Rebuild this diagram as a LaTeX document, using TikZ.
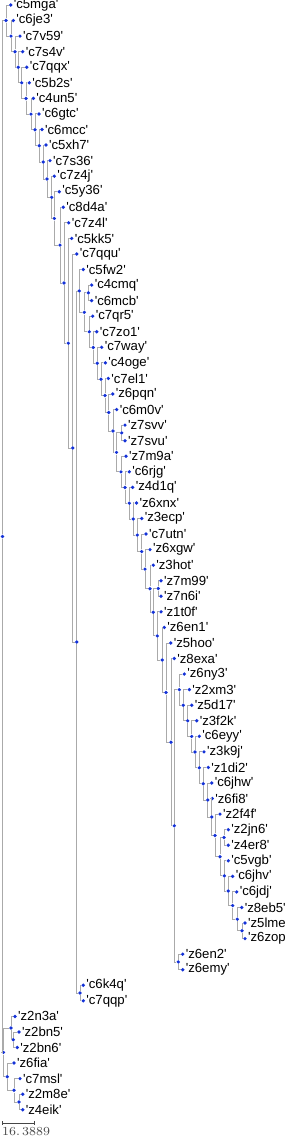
\documentclass[tikz,border=0pt]{standalone}
\usepackage{fontspec}
\setsansfont{Liberation Sans}
\usetikzlibrary{arrows.meta, positioning}
\usepackage{xcolor}
\definecolor{dotblue}{RGB}{20,50,215}
\definecolor{linegray}{RGB}{170,170,170}
\definecolor{scalegray}{RGB}{70,70,70}

\begin{document}
\begin{tikzpicture}[
      x=0.02cm, y=-0.02cm,
      dot/.style={circle, fill=dotblue, inner sep=0pt, minimum size=2.1pt},
      lbl/.style={font=\sffamily\fontsize{7.5}{9}\selectfont, inner sep=0.3pt, text=black},
      leaf/.style={dot, label={[lbl, label distance=0pt]right:\textquotesingle#1\textquotesingle}},
      edge/.style={draw=linegray, line width=0.5pt},
      sbar/.style={{Bar[width=2.4pt]}-{Bar[width=2.4pt]}, draw=scalegray, line width=0.5pt}
    ]
    \useasboundingbox (0,0) rectangle (284,1138);
    % leaves
    \node[leaf=c5mga] (c5mga) at (10.7,5.00) {};
    \node[leaf=c6je3] (c6je3) at (13.3,20.56) {};
    \node[leaf=c7v59] (c7v59) at (20,36.12) {};
    \node[leaf=c7s4v] (c7s4v) at (22.7,51.68) {};
    \node[leaf=c7qqx] (c7qqx) at (26.7,67.24) {};
    \node[leaf=c5b2s] (c5b2s) at (29.3,82.80) {};
    \node[leaf=c4un5] (c4un5) at (33.3,98.36) {};
    \node[leaf=c6gtc] (c6gtc) at (39,113.92) {};
    \node[leaf=c6mcc] (c6mcc) at (42,129.48) {};
    \node[leaf=c5xh7] (c5xh7) at (46,145.04) {};
    \node[leaf=c7s36] (c7s36) at (50,160.60) {};
    \node[leaf=c7z4j] (c7z4j) at (54.3,176.16) {};
    \node[leaf=c5y36] (c5y36) at (59.3,191.72) {};
    \node[leaf=c8d4a] (c8d4a) at (63.3,207.28) {};
    \node[leaf=c7z4l] (c7z4l) at (68.7,222.84) {};
    \node[leaf=c5kk5] (c5kk5) at (71.7,238.40) {};
    \node[leaf=c7qqu] (c7qqu) at (76.7,253.96) {};
    \node[leaf=c5fw2] (c5fw2) at (83.3,269.52) {};
    \node[leaf=c4cmq] (c4cmq) at (91.7,285.08) {};
    \node[leaf=c6mcb] (c6mcb) at (91.7,300.64) {};
    \node[leaf=c7qr5] (c7qr5) at (92.7,316.20) {};
    \node[leaf=c7zo1] (c7zo1) at (96.7,331.76) {};
    \node[leaf=c7way] (c7way) at (101.7,347.32) {};
    \node[leaf=c4oge] (c4oge) at (105.3,362.88) {};
    \node[leaf=c7el1] (c7el1) at (108.3,378.44) {};
    \node[leaf=z6pqn] (z6pqn) at (112.7,394.00) {};
    \node[leaf=c6m0v] (c6m0v) at (116.7,409.56) {};
    \node[leaf=z7svv] (z7svv) at (125,425.12) {};
    \node[leaf=z7svu] (z7svu) at (125,440.68) {};
    \node[leaf=z7m9a] (z7m9a) at (126,456.24) {};
    \node[leaf=c6rjg] (c6rjg) at (129.3,471.80) {};
    \node[leaf=z4d1q] (z4d1q) at (132.7,487.36) {};
    \node[leaf=z6xnx] (z6xnx) at (136.5,502.92) {};
    \node[leaf=z3ecp] (z3ecp) at (141.7,518.48) {};
    \node[leaf=c7utn] (c7utn) at (146,534.04) {};
    \node[leaf=z6xgw] (z6xgw) at (150,549.60) {};
    \node[leaf=z3hot] (z3hot) at (153.3,565.16) {};
    \node[leaf=z7m99] (z7m99) at (161,580.72) {};
    \node[leaf=z7n6i] (z7n6i) at (161,596.28) {};
    \node[leaf=z1t0f] (z1t0f) at (161,611.84) {};
    \node[leaf=z6en1] (z6en1) at (164.3,627.40) {};
    \node[leaf=z5hoo] (z5hoo) at (170.7,642.96) {};
    \node[leaf=z8exa] (z8exa) at (174.3,658.52) {};
    \node[leaf=z6ny3] (z6ny3) at (184.3,674.08) {};
    \node[leaf=z2xm3] (z2xm3) at (189.3,689.64) {};
    \node[leaf=z5d17] (z5d17) at (191.7,705.20) {};
    \node[leaf=z3f2k] (z3f2k) at (196.7,720.76) {};
    \node[leaf=c6eyy] (c6eyy) at (199.3,736.32) {};
    \node[leaf=z3k9j] (z3k9j) at (204,751.88) {};
    \node[leaf=z1di2] (z1di2) at (208.3,767.44) {};
    \node[leaf=c6jhw] (c6jhw) at (211.7,783.00) {};
    \node[leaf=z6fi8] (z6fi8) at (212.3,798.56) {};
    \node[leaf=z2f4f] (z2f4f) at (220,814.12) {};
    \node[leaf=z2jn6] (z2jn6) at (228.3,829.68) {};
    \node[leaf=z4er8] (z4er8) at (228.3,845.24) {};
    \node[leaf=c5vgb] (c5vgb) at (228.3,860.80) {};
    \node[leaf=c6jhv] (c6jhv) at (232.7,876.36) {};
    \node[leaf=c6jdj] (c6jdj) at (236.7,891.92) {};
    \node[leaf=z8eb5] (z8eb5) at (241.7,907.48) {};
    \node[leaf=z5lme] (z5lme) at (245,923.04) {};
    \node[leaf=z6zop] (z6zop) at (245,938.60) {};
    \node[leaf=z6en2] (z6en2) at (182.7,954.16) {};
    \node[leaf=z6emy] (z6emy) at (182.7,969.72) {};
    \node[leaf=c6k4q] (c6k4q) at (83.3,985.28) {};
    \node[leaf=c7qqp] (c7qqp) at (83.3,1000.84) {};
    \node[leaf=z2n3a] (z2n3a) at (15,1016.40) {};
    \node[leaf=z2bn5] (z2bn5) at (19,1031.96) {};
    \node[leaf=z2bn6] (z2bn6) at (17.3,1047.52) {};
    \node[leaf=z6fia] (z6fia) at (14,1063.08) {};
    \node[leaf=c7msl] (c7msl) at (20,1078.64) {};
    \node[leaf=z2m8e] (z2m8e) at (22.7,1094.20) {};
    \node[leaf=z4eik] (z4eik) at (22.7,1109.76) {};
    % inner nodes
    \node[dot] (root) at (2.5,536.48) {};
    \node[dot] (n1) at (6,20.57) {};
    \node[dot] (n2) at (11,36.13) {};
    \node[dot] (n3) at (15,51.70) {};
    \node[dot] (n4) at (18.3,67.27) {};
    \node[dot] (n5) at (21.7,82.85) {};
    \node[dot] (n6) at (26,98.45) {};
    \node[dot] (n7) at (31,114.10) {};
    \node[dot] (n8) at (35,129.83) {};
    \node[dot] (n9) at (39.3,145.74) {};
    \node[dot] (n10) at (43.3,162.00) {};
    \node[dot] (n11) at (47,178.95) {};
    \node[dot] (n12) at (51.7,197.30) {};
    \node[dot] (n13) at (54.3,218.43) {};
    \node[dot] (n14) at (60,245.15) {};
    \node[dot] (n15) at (64,283.02) {};
    \node[dot] (n16) at (68.3,343.19) {};
    \node[dot] (n17) at (72.7,447.98) {};
    \node[dot] (n18) at (76.7,642.00) {};
    \node[dot] (n19) at (79.3,290.94) {};
    \node[dot] (n20) at (84.3,312.35) {};
    \node[dot] (c1) at (88.3,292.86) {};
    \node[dot] (n21) at (89.3,331.85) {};
    \node[dot] (n22) at (93.3,347.50) {};
    \node[dot] (n23) at (97.3,363.25) {};
    \node[dot] (n24) at (101,379.17) {};
    \node[dot] (n25) at (105,395.46) {};
    \node[dot] (n26) at (108.7,412.49) {};
    \node[dot] (n27) at (113,430.97) {};
    \node[dot] (n28) at (116.5,452.38) {};
    \node[dot] (c2) at (121.7,432.90) {};
    \node[dot] (n29) at (121,471.86) {};
    \node[dot] (n30) at (125,487.49) {};
    \node[dot] (n31) at (129.3,503.17) {};
    \node[dot] (n32) at (133.3,518.98) {};
    \node[dot] (n33) at (137.3,535.04) {};
    \node[dot] (n34) at (141.7,551.59) {};
    \node[dot] (n35) at (145,569.14) {};
    \node[dot] (n36) at (150,588.69) {};
    \node[dot] (n37) at (153.3,612.21) {};
    \node[dot] (c3) at (158.3,588.50) {};
    \node[dot] (n38) at (157.3,635.91) {};
    \node[dot] (n39) at (162.3,659.98) {};
    \node[dot] (n40) at (166,692.56) {};
    \node[dot] (n41) at (171,742.16) {};
    \node[dot] (n42) at (174.3,825.80) {};
    \node[dot] (c4) at (178.3,961.94) {};
    \node[dot] (n43) at (179.3,689.65) {};
    \node[dot] (n44) at (183.3,705.22) {};
    \node[dot] (n45) at (187.7,720.81) {};
    \node[dot] (n46) at (191.7,736.41) {};
    \node[dot] (n47) at (195,752.06) {};
    \node[dot] (n48) at (199.3,767.80) {};
    \node[dot] (n49) at (203.3,783.72) {};
    \node[dot] (n50) at (207.7,799.99) {};
    \node[dot] (n51) at (211.7,816.98) {};
    \node[dot] (n52) at (215,835.40) {};
    \node[dot] (n53) at (220,856.67) {};
    \node[dot] (c5) at (224,837.46) {};
    \node[dot] (n54) at (224.3,875.88) {};
    \node[dot] (n55) at (228.3,890.95) {};
    \node[dot] (n56) at (232.7,905.54) {};
    \node[dot] (n57) at (237.3,919.15) {};
    \node[dot] (c6) at (242,930.82) {};
    \node[dot] (ck) at (80,993.06) {};
    \node[dot] (b0) at (3.5,1052.39) {};
    \node[dot] (b1) at (11,1028.07) {};
    \node[dot] (b2) at (13.3,1039.74) {};
    \node[dot] (b3) at (7.3,1076.70) {};
    \node[dot] (b4) at (14,1090.31) {};
    \node[dot] (b5) at (19,1101.98) {};
    % branches
    \foreach \p/\c in {root/n1, root/b0, n1/c5mga, n1/n2, n2/c6je3, n2/n3, n3/c7v59, n3/n4,
        n4/c7s4v, n4/n5, n5/c7qqx, n5/n6, n6/c5b2s, n6/n7, n7/c4un5, n7/n8, n8/c6gtc, n8/n9,
        n9/c6mcc, n9/n10, n10/c5xh7, n10/n11, n11/c7s36, n11/n12, n12/c7z4j, n12/n13,
        n13/c5y36, n13/n14, n14/c8d4a, n14/n15, n15/c7z4l, n15/n16, n16/c5kk5, n16/n17,
        n17/c7qqu, n17/n18, n18/n19, n18/ck, ck/c6k4q, ck/c7qqp, n19/c5fw2, n19/n20,
        n20/c1, n20/n21, c1/c4cmq, c1/c6mcb, n21/c7qr5, n21/n22, n22/c7zo1, n22/n23,
        n23/c7way, n23/n24, n24/c4oge, n24/n25, n25/c7el1, n25/n26, n26/z6pqn, n26/n27,
        n27/c6m0v, n27/n28, n28/c2, n28/n29, c2/z7svv, c2/z7svu, n29/z7m9a, n29/n30,
        n30/c6rjg, n30/n31, n31/z4d1q, n31/n32, n32/z6xnx, n32/n33, n33/z3ecp, n33/n34,
        n34/c7utn, n34/n35, n35/z6xgw, n35/n36, n36/z3hot, n36/n37, n37/c3, n37/n38,
        c3/z7m99, c3/z7n6i, n38/z1t0f, n38/n39, n39/z6en1, n39/n40, n40/z5hoo, n40/n41,
        n41/z8exa, n41/n42, n42/n43, n42/c4, c4/z6en2, c4/z6emy, n43/z6ny3, n43/n44,
        n44/z2xm3, n44/n45, n45/z5d17, n45/n46, n46/z3f2k, n46/n47, n47/c6eyy, n47/n48,
        n48/z3k9j, n48/n49, n49/z1di2, n49/n50, n50/c6jhw, n50/n51, n51/z6fi8, n51/n52,
        n52/z2f4f, n52/n53, n53/c5, n53/n54, c5/z2jn6, c5/z4er8, n54/c5vgb, n54/n55,
        n55/c6jhv, n55/n56, n56/c6jdj, n56/n57, n57/z8eb5, n57/c6, c6/z5lme, c6/z6zop,
        b0/b1, b0/b3, b1/z2n3a, b1/b2, b2/z2bn5, b2/z2bn6, b3/z6fia, b3/b4,
        b4/c7msl, b4/b5, b5/z2m8e, b5/z4eik}
      \draw[edge] (\p) |- (\c);
    % scale bar
    \coordinate (sb0) at (1.7,1123);
    \coordinate (sb1) at (35,1123);
    \draw[sbar] (sb0) -- (sb1);
    \node[below right=2.4pt and 0pt of sb0, inner sep=0pt, text=scalegray,
          font=\rmfamily\fontsize{7}{8}\selectfont] (sblabel) {16.\,3889};
  \end{tikzpicture}
\end{document}
